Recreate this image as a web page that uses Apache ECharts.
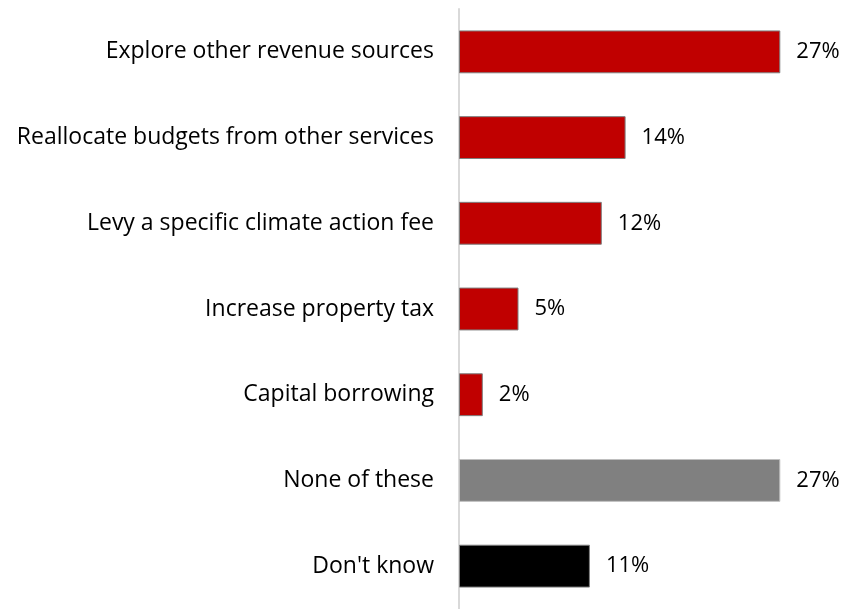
<!DOCTYPE html>
<html>
<head>
<meta charset="utf-8">
<script src="https://cdn.jsdelivr.net/npm/echarts@6/dist/echarts.min.js"></script>
<style>
  html, body { margin: 0; padding: 0; background: #fff; }
  #chart { width: 845px; height: 609px; }
</style>
</head>
<body>
<div id="chart"></div>
<script>
// Funding options for climate action, share of respondents (%)
const categories = [
  "Explore other revenue sources",
  "Reallocate budgets from other services",
  "Levy a specific climate action fee",
  "Increase property tax",
  "Capital borrowing",
  "None of these",
  "Don't know"
];
const values = [27, 14, 12, 5, 2, 27, 11];
const barColors = ["#c00000", "#c00000", "#c00000", "#c00000", "#c00000", "#808080", "#000000"];
const borderColors = ["#7f7f7f", "#7f7f7f", "#7f7f7f", "#7f7f7f", "#7f7f7f", "#bfbfbf", "#7f7f7f"];

const font = "'Open Sans', 'Noto Sans', sans-serif";

const chart = echarts.init(document.getElementById('chart'), null, { renderer: 'canvas' });
chart.setOption({
  animation: false,
  grid: { left: 459, right: 29, top: 9, bottom: -2, containLabel: false },
  xAxis: {
    type: 'value', min: 0, max: 30,
    show: false
  },
  yAxis: {
    type: 'category',
    data: categories,
    inverse: true,
    axisLine: { show: true, lineStyle: { color: '#d9d9d9', width: 2 } },
    axisTick: { show: false },
    axisLabel: { color: '#000', fontFamily: font, fontSize: 23, margin: 25 }
  },
  series: [{
    type: 'bar',
    barWidth: '50%',
    data: values.map((v, i) => ({
      value: v,
      itemStyle: { color: barColors[i], borderColor: borderColors[i], borderWidth: 1 }
    })),
    label: {
      show: true, position: 'right', distance: 16,
      color: '#000', fontFamily: font, fontSize: 22,
      formatter: p => p.value + '%'
    }
  }]
});
</script>
</body>
</html>
